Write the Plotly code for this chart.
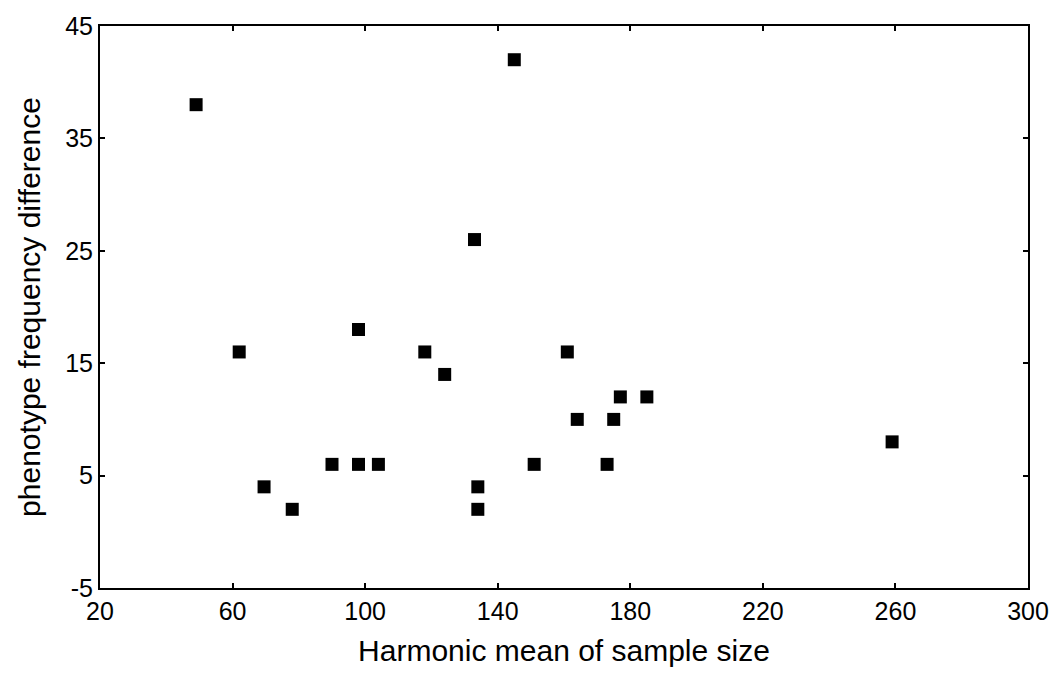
import plotly.graph_objects as go

# Harmonic mean of sample size (x) and phenotype frequency difference (y)
harmonic_mean = [49, 145, 133, 62, 98, 118, 124, 161, 177, 185, 164, 175,
                 259, 90, 98, 104, 151, 173, 69.5, 78, 134, 134]
freq_diff = [38, 42, 26, 16, 18, 16, 14, 16, 12, 12, 10, 10,
             8, 6, 6, 6, 6, 6, 4, 2, 4, 2]

x_ticks = [20, 60, 100, 140, 180, 220, 260, 300]
y_ticks = [-5, 5, 15, 25, 35, 45]

FONT = "Arial, Liberation Sans, sans-serif"

fig = go.Figure(
    go.Scatter(
        x=harmonic_mean,
        y=freq_diff,
        mode="markers",
        marker=dict(symbol="square", size=13, color="black",
                    line=dict(width=0)),
        showlegend=False,
    )
)

axis_common = dict(
    showline=True, linecolor="black", linewidth=2, mirror="ticks",
    ticks="inside", ticklen=5, tickwidth=1.5, tickcolor="black",
    showgrid=False, zeroline=False,
    tickfont=dict(family=FONT, size=25, color="black"),
)

fig.update_layout(
    width=1061, height=678,
    margin=dict(l=100, r=29, t=19, b=90),
    paper_bgcolor="white", plot_bgcolor="white",
    xaxis=dict(range=[20, 300], tickvals=x_ticks,
               ticktext=[str(v) for v in x_ticks],
               title=dict(text="Harmonic mean of sample size",
                          font=dict(family=FONT, size=30, color="black"),
                          standoff=16),
               **axis_common),
    yaxis=dict(range=[-5, 45], tickvals=y_ticks,
               ticktext=[str(v) for v in y_ticks],
               title=dict(text="phenotype frequency difference",
                          font=dict(family=FONT, size=30, color="black"),
                          standoff=16),
               **axis_common),
)

fig.write_html("out.html")
